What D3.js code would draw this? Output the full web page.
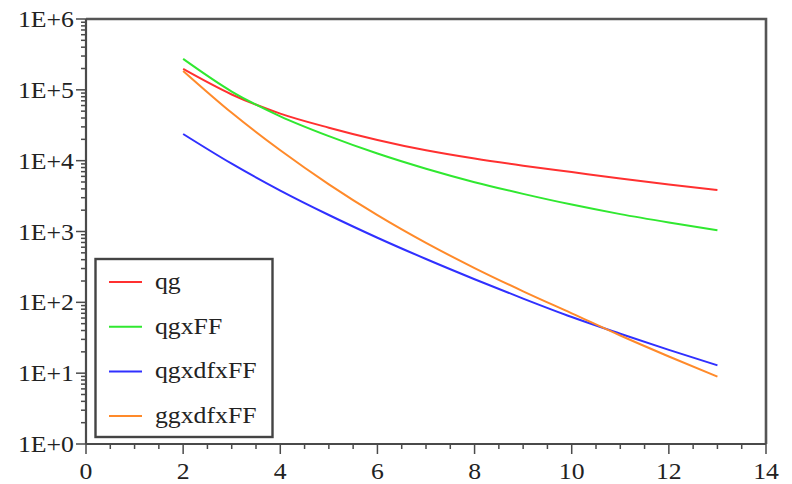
<!DOCTYPE html>
<html>
<head>
<meta charset="utf-8">
<script src="https://cdn.jsdelivr.net/npm/d3@7"></script>
<style>
  html, body { margin: 0; padding: 0; background: #fff; }
  svg { display: block; }
</style>
</head>
<body>
<svg id="chart" width="792" height="484"></svg>
<script>
// Energy points along the x axis
const xValues = [2, 3, 4, 5, 6, 7, 8, 9, 10, 11, 12, 13];

// Series values (log scale)
const qg       = [1.97e5, 8.6e4, 4.62e4, 2.92e4, 1.96e4, 1.40e4, 1.07e4, 8.5e3, 6.9e3, 5.6e3, 4.6e3, 3.86e3];
const qgxFF    = [2.73e5, 9.46e4, 4.23e4, 2.22e4, 1.26e4, 7.69e3, 4.97e3, 3.40e3, 2.40e3, 1.76e3, 1.34e3, 1.04e3];
const qgxdfxFF = [2.38e4, 9.06e3, 3.78e3, 1.71e3, 817, 409, 212, 113, 62, 36, 21.3, 12.9];
const ggxdfxFF = [1.85e5, 4.74e4, 1.40e4, 4.63e3, 1.70e3, 690, 305, 143, 70, 34, 17.2, 8.93];

const seriesNames  = ["qg", "qgxFF", "qgxdfxFF", "ggxdfxFF"];
const seriesColors = ["#ff3030", "#30e830", "#3030ff", "#ff8a2a"];
const seriesValues = [qg, qgxFF, qgxdfxFF, ggxdfxFF];

// Axis tick labels
const xTickValues = [0, 2, 4, 6, 8, 10, 12, 14];
const yTickValues = [1, 10, 100, 1000, 10000, 100000, 1000000];
const yTickLabels = ["1E+0", "1E+1", "1E+2", "1E+3", "1E+4", "1E+5", "1E+6"];

const svg = d3.select("#chart");
const plot = { left: 86, right: 766, top: 19, bottom: 444 };
const stretch = 1.12;
const fontSize = 23;
const fontFamily = "Liberation Serif";

const x = d3.scaleLinear().domain([0, 14]).range([plot.left, plot.right]);
const y = d3.scaleLog().domain([1, 1e6]).range([plot.bottom, plot.top]);

const axisColor = "#4a4a4a";
const textColor = "#222";

// Frame on top and right
svg.append("path")
  .attr("d", `M${plot.left},${plot.top}H${plot.right}V${plot.bottom}`)
  .attr("fill", "none").attr("stroke", "#555").attr("stroke-width", 2.6);

// Minor / major ticks on x
const xMinor = d3.range(0, 14.01, 0.5).filter(v => !xTickValues.includes(v));
const xAxisG = svg.append("g");
xAxisG.selectAll("line.minor").data(xMinor).join("line")
  .attr("x1", d => x(d)).attr("x2", d => x(d))
  .attr("y1", plot.bottom).attr("y2", plot.bottom + 5)
  .attr("stroke", axisColor).attr("stroke-width", 1.5);
xAxisG.selectAll("line.major").data(xTickValues).join("line")
  .attr("x1", d => x(d)).attr("x2", d => x(d))
  .attr("y1", plot.bottom).attr("y2", plot.bottom + 10)
  .attr("stroke", axisColor).attr("stroke-width", 1.5);
xAxisG.selectAll("text").data(xTickValues).join("text")
  .attr("transform", d => `translate(${x(d)},${plot.bottom + 35}) scale(${stretch},1)`)
  .attr("text-anchor", "middle")
  .attr("font-family", fontFamily).attr("font-size", fontSize).attr("fill", textColor)
  .text(d => d);

// Minor / major ticks on y (log)
const yMinor = [];
for (let e = 0; e < 6; e++) for (let m = 2; m <= 9; m++) yMinor.push(m * Math.pow(10, e));
const yAxisG = svg.append("g");
yAxisG.selectAll("line.minor").data(yMinor).join("line")
  .attr("x1", plot.left - 5).attr("x2", plot.left)
  .attr("y1", d => y(d)).attr("y2", d => y(d))
  .attr("stroke", axisColor).attr("stroke-width", 1.5);
yAxisG.selectAll("line.major").data(yTickValues).join("line")
  .attr("x1", plot.left - 10).attr("x2", plot.left)
  .attr("y1", d => y(d)).attr("y2", d => y(d))
  .attr("stroke", axisColor).attr("stroke-width", 1.5);
yAxisG.selectAll("text").data(yTickValues).join("text")
  .attr("transform", d => `translate(${plot.left - 12},${y(d) + 8}) scale(${stretch},1)`)
  .attr("text-anchor", "end")
  .attr("font-family", fontFamily).attr("font-size", fontSize).attr("fill", textColor)
  .text((d, i) => yTickLabels[i]);

// Axis lines
svg.append("line")
  .attr("x1", plot.left).attr("x2", plot.left)
  .attr("y1", plot.top).attr("y2", plot.bottom)
  .attr("stroke", axisColor).attr("stroke-width", 2.2);
svg.append("line")
  .attr("x1", plot.left).attr("x2", plot.right)
  .attr("y1", plot.bottom).attr("y2", plot.bottom)
  .attr("stroke", axisColor).attr("stroke-width", 2.2);

// Series curves
const line = d3.line()
  .x((d, i) => x(xValues[i]))
  .y(d => y(d))
  .curve(d3.curveMonotoneX);

svg.append("g").selectAll("path").data(seriesValues).join("path")
  .attr("d", d => line(d))
  .attr("fill", "none")
  .attr("stroke", (d, i) => seriesColors[i])
  .attr("stroke-width", 2);

// Legend
const legend = svg.append("g");
legend.append("rect")
  .attr("x", 95.5).attr("y", 259).attr("width", 177).attr("height", 178)
  .attr("fill", "#fff").attr("stroke", "#444").attr("stroke-width", 2.4);
const rowY = i => 282 + i * 44.7;
legend.selectAll("line").data(seriesNames).join("line")
  .attr("x1", 109).attr("x2", 142)
  .attr("y1", (d, i) => rowY(i)).attr("y2", (d, i) => rowY(i))
  .attr("stroke", (d, i) => seriesColors[i]).attr("stroke-width", 2);
legend.selectAll("text").data(seriesNames).join("text")
  .attr("transform", (d, i) => `translate(155,${rowY(i) + 7}) scale(${stretch},1)`)
  .attr("font-family", fontFamily).attr("font-size", fontSize).attr("fill", textColor)
  .text(d => d);
</script>
</body>
</html>
